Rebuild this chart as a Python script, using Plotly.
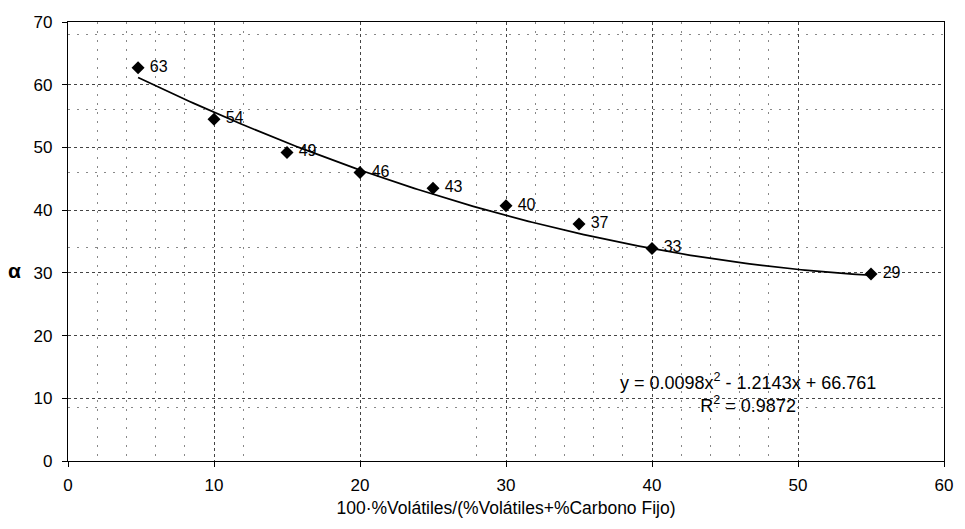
import numpy as np
import plotly.graph_objects as go

# Data
x_vals = [4.8, 10, 15, 20, 25, 30, 35, 40, 55]
y_vals = [62.7, 54.5, 49.2, 46.0, 43.5, 40.7, 37.8, 33.9, 29.8]
point_labels = ["63", "54", "49", "46", "43", "40", "37", "33", "29"]

# Polynomial trendline coefficients (as printed on chart)
trend_coef = [0.0098, -1.2143, 66.761]
r_squared = 0.9872

x_ticks = [0, 10, 20, 30, 40, 50, 60]
y_ticks = [0, 10, 20, 30, 40, 50, 60, 70]
x_minor = [2, 4, 6, 8, 12, 28, 32, 34, 36, 38, 42, 44, 46, 48]
y_minor = [8.5, 34, 46, 56, 68]

font_family = "Liberation Sans, Arial, sans-serif"

xt = np.linspace(min(x_vals), max(x_vals), 200)
yt = np.polyval(trend_coef, xt)

fig = go.Figure()
fig.add_trace(go.Scatter(x=xt, y=yt, mode="lines",
                         line=dict(color="black", width=1.7),
                         hoverinfo="skip", showlegend=False))
fig.add_trace(go.Scatter(x=x_vals, y=y_vals, mode="markers+text",
                         marker=dict(symbol="diamond", size=10, color="black"),
                         text=["\u00a0" + s for s in point_labels],
                         textposition="middle right",
                         textfont=dict(size=16, color="black", family=font_family),
                         showlegend=False))

axis_common = dict(
    showline=True, linecolor="black", linewidth=1.2, mirror=True,
    ticks="outside", ticklen=5, tickcolor="black",
    showgrid=True, gridcolor="#444", gridwidth=1, griddash="dot",
    zeroline=False,
    tickfont=dict(size=17, color="black", family=font_family),
)

fig.update_xaxes(range=[0, 60], tickvals=x_ticks, ticklabelstandoff=3,
                 minor=dict(tickvals=x_minor, showgrid=True, gridcolor="#888",
                            gridwidth=1, griddash="2px,7px", ticks=""),
                 title=dict(text="100·%Volátiles/(%Volátiles+%Carbono Fijo)",
                            font=dict(size=17.5, color="black", family=font_family),
                            standoff=8),
                 **axis_common)
fig.update_yaxes(range=[0, 70], tickvals=y_ticks, ticklabelstandoff=6,
                 minor=dict(tickvals=y_minor, showgrid=True, gridcolor="#888",
                            gridwidth=1, griddash="2px,7px", ticks=""),
                 **axis_common)

eq_text = (f"y = {trend_coef[0]}x<sup>2</sup> - {abs(trend_coef[1])}x + {trend_coef[2]}"
           f"<br>R<sup>2</sup> = {r_squared}")
fig.add_annotation(x=46.6, y=10.9, xref="x", yref="y", text=eq_text, showarrow=False,
                   align="center", font=dict(size=18, color="black", family=font_family))
fig.add_annotation(x=-0.061, y=0.435, xref="paper", yref="paper", text="<b>α</b>",
                   xanchor="center", yanchor="middle",
                   showarrow=False, font=dict(size=21, color="black", family=font_family))

fig.update_layout(
    width=965, height=529,
    margin=dict(l=68, r=13, t=22, b=68),
    paper_bgcolor="white", plot_bgcolor="white",
)

fig.write_html("out.html")
